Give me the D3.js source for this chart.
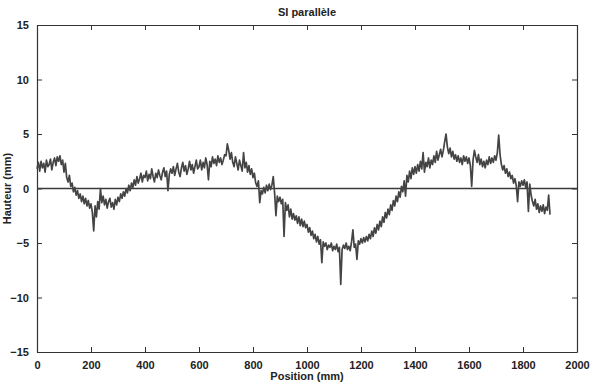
<!DOCTYPE html>
<html>
<head>
<meta charset="utf-8">
<script src="https://cdn.jsdelivr.net/npm/d3@7"></script>
<style>
html,body{margin:0;padding:0;background:#fff;}
svg text{font-family:"Liberation Sans",Arial,Helvetica,sans-serif;font-weight:bold;fill:#222;}
</style>
</head>
<body>
<svg id="chart" width="609" height="388"></svg>
<script>
const title = "SI parallèle";
const xLabel = "Position (mm)";
const yLabel = "Hauteur (mm)";
const xTicks = [0, 200, 400, 600, 800, 1000, 1200, 1400, 1600, 1800, 2000];
const yTicks = [-15, -10, -5, 0, 5, 10, 15];
const xDomain = [0, 2000];
const yDomain = [-15, 15];
const startPosition = 0;
const positionStep = 5;
const zeroLine = [0, 2000];
const heights = [
  1.8,2.4,1.6,2.5,1.9,2.3,1.5,2.6,2.0,2.2,2.7,1.7,2.4,2.8,2.1,2.9,2.5,3.0,2.2,2.6,
  1.5,2.3,1.0,0.6,1.2,0.2,0.5,-0.3,0.1,-0.6,-0.2,-0.9,-0.5,-1.2,-0.7,-1.4,-0.9,-1.6,-1.1,-1.8,
  -1.4,-2.2,-3.9,-1.6,-2.6,-1.2,-1.9,0.0,-1.3,-0.7,-1.5,-1.0,-1.8,-1.2,-0.9,-1.7,-1.3,-1.9,-1.0,-1.5,
  -0.8,-1.2,-0.5,-0.9,-0.3,-0.7,0.0,-0.4,0.3,-0.2,0.5,0.1,0.8,0.3,1.1,0.5,0.9,1.4,0.6,1.2,
  1.0,1.6,0.7,1.3,0.9,1.8,1.1,0.6,1.4,1.0,1.7,1.2,0.8,1.5,1.9,1.1,1.6,-0.2,1.3,1.8,
  1.4,2.0,1.2,1.8,2.3,1.5,1.1,1.9,2.4,1.6,2.1,1.3,1.8,2.5,1.7,2.2,1.4,2.0,2.6,1.8,
  2.0,2.6,1.7,2.4,1.9,2.8,2.2,0.8,2.5,2.0,2.9,2.3,2.7,2.1,3.0,2.4,2.8,2.2,2.6,3.1,
  3.0,4.1,3.5,2.7,3.3,2.4,2.0,2.9,2.3,1.7,2.6,2.1,1.6,3.3,1.9,2.4,1.5,2.1,1.3,1.8,
  1.0,1.4,0.5,0.2,0.7,-1.3,-0.2,-0.5,0.1,-0.4,0.3,-0.2,0.4,-0.1,0.3,1.1,-0.4,-2.5,-0.7,-1.2,
  -0.8,-1.4,-1.0,-4.4,-1.3,-2.0,-1.5,-2.6,-1.9,-2.8,-2.3,-2.9,-2.5,-3.2,-2.6,-3.4,-2.8,-3.5,-3.0,-3.6,
  -3.3,-4.0,-3.6,-4.3,-3.9,-4.6,-4.2,-4.9,-4.4,-5.1,-4.7,-6.8,-4.9,-5.3,-5.0,-5.6,-5.2,-5.4,-5.0,-5.7,
  -5.3,-5.6,-5.1,-5.8,-5.4,-8.8,-5.6,-5.2,-5.5,-5.0,-5.6,-5.3,-5.7,-4.9,-3.8,-5.4,-5.1,-6.5,-4.8,-5.1,
  -4.6,-5.0,-4.5,-4.9,-4.4,-4.8,-4.2,-4.6,-3.9,-4.4,-3.6,-4.1,-3.3,-3.8,-3.0,-3.5,-2.6,-3.1,-2.2,-2.7,
  -1.9,-2.4,-1.5,-2.0,-1.1,-1.6,-0.7,-1.2,-0.3,-0.8,0.2,-0.3,0.7,-0.7,1.2,0.6,1.6,0.9,1.9,1.3,
  2.0,1.4,2.2,1.6,2.5,1.8,3.3,1.5,2.4,2.0,2.8,1.9,2.6,2.2,3.0,2.4,3.4,2.6,3.1,3.6,
  2.9,3.5,4.3,5.0,3.8,3.2,3.7,2.9,3.4,2.7,3.1,2.5,3.0,2.4,2.8,2.2,3.0,2.5,2.9,2.3,
  2.8,2.1,0.2,2.6,3.5,2.9,2.4,3.1,2.2,2.7,2.0,2.5,1.9,2.6,2.2,2.9,2.3,2.8,2.4,3.0,
  2.6,3.3,4.9,3.1,2.2,1.7,2.1,1.4,1.8,1.1,1.5,0.9,1.2,0.5,0.9,0.3,-1.2,0.6,0.2,0.7,
  0.3,0.8,0.1,0.6,-2.1,0.4,-0.6,-1.2,-1.6,-1.0,-1.9,-1.4,-2.2,-1.6,-2.1,-1.5,-2.3,-1.7,-2.0,-0.6,-2.4
];

const W = 609, H = 388;
const margin = {top: 25, right: 32, bottom: 36, left: 37};
const svg = d3.select("#chart");
const x = d3.scaleLinear().domain(xDomain).range([margin.left, W - margin.right]);
const y = d3.scaleLinear().domain(yDomain).range([H - margin.bottom, margin.top]);
const axisColor = "#333";
const fmt = d => d < 0 ? "\u2212" + Math.abs(d) : String(d);

// axes with inward ticks
const gx = svg.append("g").attr("transform", `translate(0,${H - margin.bottom})`)
  .call(d3.axisBottom(x).tickValues(xTicks).tickSizeInner(-5).tickSizeOuter(0).tickPadding(9).tickFormat(fmt));
const gxt = svg.append("g").attr("transform", `translate(0,${margin.top})`)
  .call(d3.axisTop(x).tickValues(xTicks).tickSizeInner(-5).tickSizeOuter(0).tickFormat(""));
const gy = svg.append("g").attr("transform", `translate(${margin.left},0)`)
  .call(d3.axisLeft(y).tickValues(yTicks).tickSizeInner(-5).tickSizeOuter(0).tickPadding(8).tickFormat(fmt));
const gyr = svg.append("g").attr("transform", `translate(${W - margin.right},0)`)
  .call(d3.axisRight(y).tickValues(yTicks).tickSizeInner(-5).tickSizeOuter(0).tickFormat(""));
[gx, gxt, gy, gyr].forEach(g => {
  g.selectAll(".domain").attr("stroke", axisColor).attr("stroke-width", 1.2);
  g.selectAll(".tick line").attr("stroke", axisColor).attr("stroke-width", 1);
  g.selectAll("text").attr("font-size", 11).attr("font-family", "Liberation Sans, Arial, sans-serif").attr("font-weight", "bold").attr("fill", "#222");
});

// zero line
svg.append("line")
  .attr("x1", x(zeroLine[0])).attr("x2", x(zeroLine[1]))
  .attr("y1", y(0)).attr("y2", y(0))
  .attr("stroke", "#3a3a3a").attr("stroke-width", 1.4);

// data line
const data = heights.map((v, i) => ({pos: startPosition + i * positionStep, h: v}));
svg.append("path").datum(data)
  .attr("fill", "none").attr("stroke", "#444").attr("stroke-width", 1.7)
  .attr("stroke-linejoin", "round")
  .attr("d", d3.line().x(d => x(d.pos)).y(d => y(d.h)));

// title and labels
svg.append("text").attr("x", (margin.left + W - margin.right) / 2).attr("y", 16)
  .attr("text-anchor", "middle").attr("font-size", 11).text(title);
svg.append("text").attr("x", (margin.left + W - margin.right) / 2).attr("y", 380)
  .attr("text-anchor", "middle").attr("font-size", 11).text(xLabel);
svg.append("text").attr("transform", `translate(11,${(margin.top + H - margin.bottom) / 2}) rotate(-90)`)
  .attr("text-anchor", "middle").attr("font-size", 11).text(yLabel);
</script>
</body>
</html>
